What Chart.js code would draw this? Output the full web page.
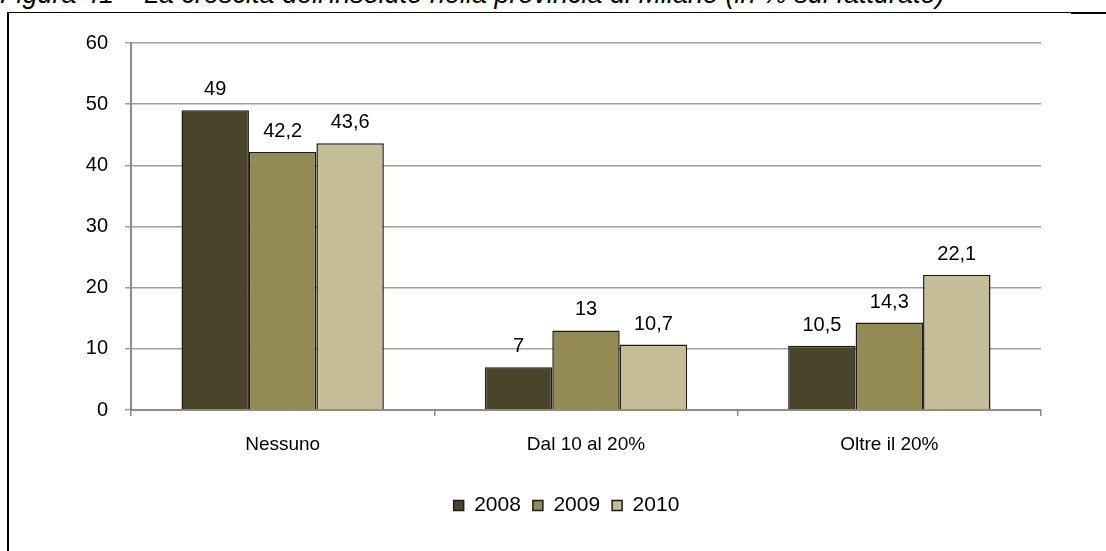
<!DOCTYPE html>
<html>
<head>
<meta charset="utf-8">
<script src="https://cdn.jsdelivr.net/npm/chart.js@4.4.1/dist/chart.umd.min.js"></script>
<style>
  html,body{margin:0;padding:0;background:#fff;}
  #wrap{position:relative;width:1106px;height:551px;overflow:hidden;}
  #title{position:absolute;left:0;top:-21px;font:italic 27px "Liberation Sans",Arial,sans-serif;color:#000;white-space:nowrap;}
  #topline{position:absolute;left:8px;top:12px;width:1063px;height:1px;background:#000;}
  #topline2{position:absolute;left:1071px;top:12px;width:35px;height:2px;background:#000;}
  #leftline{position:absolute;left:7px;top:12px;width:2px;height:540px;background:#000;}
  canvas{position:absolute;left:0;top:0;}
</style>
</head>
<body>
<div id="wrap">
  <div id="title">Figura 41 – La crescita dell'insoluto nella provincia di Milano (in % sul fatturato)</div>
  <div id="topline"></div><div id="topline2"></div><div id="leftline"></div>
  <canvas id="chart" width="1106" height="551"></canvas>
</div>
<script>
const categories = ["Nessuno", "Dal 10 al 20%", "Oltre il 20%"];
const years = ["2008", "2009", "2010"];
const v2008 = [49, 7, 10.5];
const v2009 = [42.2, 13, 14.3];
const v2010 = [43.6, 10.7, 22.1];
const colors = ["#4a442a", "#948a54", "#c4bd97"];

const FONT = '"Liberation Sans", Arial, sans-serif';
const fmt = v => String(v).replace(".", ",");

// value labels above each bar
const barLabels = {
  id: "barLabels",
  afterDatasetsDraw(chart){
    const ctx = chart.ctx;
    ctx.save();
    ctx.font = '20px ' + FONT;
    ctx.fillStyle = "#000";
    ctx.textAlign = "center";
    ctx.textBaseline = "alphabetic";
    chart.data.datasets.forEach((ds, i)=>{
      chart.getDatasetMeta(i).data.forEach((bar, j)=>{
        ctx.fillText(fmt(ds.data[j]), bar.x, bar.y - 15);
      });
    });
    ctx.restore();
  }
};

// legend sits a bit right of the canvas centre, like the original
const legendShift = {
  id: "legendShift",
  afterLayout(chart){
    chart.legend.left += 46;
    chart.legend.right += 46;
  }
};

new Chart(document.getElementById("chart"), {
  type: "bar",
  data: {
    labels: categories,
    datasets: [v2008, v2009, v2010].map((d, i)=>({
      label: years[i],
      data: d,
      backgroundColor: colors[i],
      borderColor: "#1e1c12",
      borderWidth: 1.5,
      categoryPercentage: 0.667,
      barPercentage: 1.0
    }))
  },
  options: {
    responsive: false,
    animation: false,
    layout: { padding: { top: 43, right: 65, left: 0, bottom: 25 } },
    plugins: {
      tooltip: { enabled: false },
      legend: {
        position: "bottom",
        labels: {
          font: { family: FONT, size: 21 },
          color: "#000",
          boxWidth: 10, boxHeight: 10,
          padding: 12,
          generateLabels(chart){
            return chart.data.datasets.map((ds, i)=>({
              text: ds.label, fillStyle: ds.backgroundColor,
              strokeStyle: "#1e1c12", lineWidth: 1.5, datasetIndex: i
            }));
          }
        }
      }
    },
    scales: {
      x: {
        grid: { offset: true, drawOnChartArea: false, color: "#8c8c8c", tickLength: 6, lineWidth: 1.5 },
        border: { color: "#8c8c8c", width: 2 },
        ticks: { color: "#000", font: { family: FONT, size: 19 }, padding: 17 },
        afterFit(s){ s.height = 73; }
      },
      y: {
        min: 0, max: 60,
        ticks: { stepSize: 10, color: "#000", font: { family: FONT, size: 20 }, padding: 17 },
        grid: { color: "#a0a0a0", lineWidth: 1.5, tickLength: 6 },
        border: { color: "#8c8c8c", width: 2 },
        afterFit(s){ s.width = 131; }
      }
    }
  },
  plugins: [barLabels, legendShift]
});
</script>
</body>
</html>
